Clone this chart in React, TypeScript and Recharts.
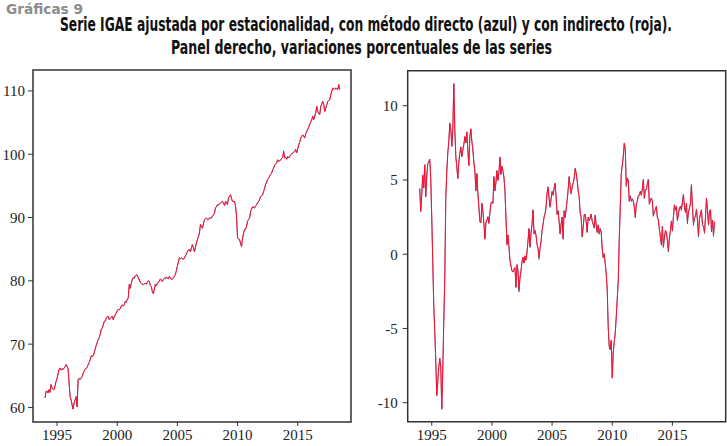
import React from 'react';
import { LineChart, Line, XAxis, YAxis, ReferenceArea } from 'recharts';

// Monthly observations, first month = January 1994
const START_YEAR = 1994;
const yearTicks = [1995, 2000, 2005, 2010, 2015];
const levelTicks = [60, 70, 80, 90, 100, 110];
const changeTicks = [-10, -5, 0, 5, 10];

// Left panel: IGAE seasonally adjusted (indirect method, red)
const igaeIndirecto = [
  61.5, 62.5, 62.6, 62.3, 62.8, 62.4, 63.6, 63.1, 62.9, 62.8, 63.4, 64.1,
  64.6, 65.3, 66.0, 66.2, 65.9, 66.1, 66.0, 66.2, 66.4, 66.75, 66.5, 66.1,
  63.85, 61.7, 61.2, 60.4, 59.75, 60.7, 61.2, 61.7, 60.1, 64.4, 64.6, 64.4,
  64.6, 64.9, 65.4, 65.7, 66.0, 66.2, 66.3, 66.75, 67.1, 67.5, 68.1, 68.1,
  68.1, 68.6, 69.2, 69.8, 70.2, 70.7, 71.0, 71.5, 72.3, 72.5, 73.0, 73.6,
  73.6, 74.1, 74.3, 74.4, 73.9, 74.1, 74.2, 74.4, 73.9, 74.3, 74.6, 74.9,
  75.2, 75.5, 75.4, 75.6, 76.0, 76.2, 76.0, 76.2, 76.75, 76.6, 77.0, 77.3,
  79.4, 78.8, 79.6, 80.2, 80.5, 80.4, 80.75, 80.9, 80.9, 80.5, 80.1, 79.75,
  79.6, 79.5, 79.4, 79.5, 79.6, 79.5, 79.8, 80.0, 79.9, 79.3, 79.1, 78.3,
  78.0, 78.6, 79.4, 79.2, 79.6, 79.8, 79.9, 80.3, 80.1, 79.9, 80.2, 80.4,
  80.3, 80.6, 80.4, 80.3, 80.7, 80.5, 80.2, 80.3, 80.4, 80.7, 81.0, 81.6,
  82.3, 83.0, 83.6, 83.5, 83.6, 83.5, 83.4, 83.6, 83.9, 84.2, 84.6, 84.9,
  84.9, 84.6, 85.2, 85.7, 85.2, 84.6, 85.3, 85.95, 86.5, 87.0, 87.55, 88.9,
  88.6, 88.3, 89.0, 89.65, 89.8, 89.9, 89.65, 89.7, 89.9, 89.9, 89.9, 90.2,
  90.4, 90.7, 91.5, 91.7, 92.0, 92.0, 92.1, 92.3, 92.4, 92.55, 92.2, 91.9,
  92.55, 92.3, 92.0, 93.1, 93.3, 93.6, 93.0, 92.55, 92.5, 92.55, 91.75, 90.2,
  86.75, 86.6, 86.5, 85.9, 85.4, 86.75, 87.5, 88.1, 88.1, 88.6, 89.4, 89.7,
  89.9, 90.95, 91.3, 91.7, 91.6, 91.5, 91.8, 92.0, 92.3, 92.5, 92.8, 93.3,
  93.4, 93.6, 94.1, 94.6, 95.2, 95.6, 96.0, 96.2, 96.5, 96.8, 97.0, 97.5,
  97.8, 98.3, 98.4, 98.6, 99.1, 98.9, 98.9, 99.1, 99.3, 99.5, 100.4, 99.4,
  99.5, 99.2, 99.6, 99.4, 99.6, 99.9, 100.0, 100.2, 100.3, 100.4, 100.7, 100.2,
  100.8, 101.5, 101.9, 102.55, 102.8, 103.05, 102.8, 102.55, 103.2, 103.6, 103.9, 104.3,
  104.7, 105.1, 105.45, 106.0, 105.45, 106.0, 106.5, 107.55, 106.75, 106.4, 106.25, 107.55,
  107.9, 108.35, 107.8, 106.75, 107.3, 107.8, 108.35, 108.5, 108.6, 109.4, 109.9, 110.45,
  110.3, 110.2, 110.45, 110.3, 110.2, 111.0, 110.2,
];

// Left panel: IGAE seasonally adjusted (direct method, blue)
const igaeDirecto = [
  61.5, 62.55, 62.55, 62.25, 62.85, 62.35, 63.65, 63.05, 62.85, 62.8, 63.45, 64.1,
  64.65, 65.3, 66.05, 66.25, 65.9, 66.15, 66.0, 66.25, 66.4, 66.8, 66.5, 66.15,
  63.8, 61.7, 61.15, 60.4, 59.7, 60.7, 61.2, 61.75, 60.1, 64.45, 64.6, 64.45,
  64.65, 64.9, 65.45, 65.7, 66.05, 66.2, 66.35, 66.75, 67.15, 67.5, 68.15, 68.1,
  68.15, 68.6, 69.25, 69.8, 70.25, 70.7, 71.05, 71.5, 72.35, 72.5, 73.05, 73.6,
  73.65, 74.1, 74.35, 74.4, 73.85, 74.1, 74.25, 74.4, 73.85, 74.3, 74.65, 74.9,
  75.25, 75.5, 75.45, 75.6, 76.05, 76.2, 76.05, 76.2, 76.8, 76.6, 77.05, 77.3,
  79.45, 78.8, 79.65, 80.2, 80.55, 80.4, 80.8, 80.95, 80.9, 80.5, 80.15, 79.75,
  79.65, 79.5, 79.4, 79.55, 79.6, 79.5, 79.85, 80.0, 79.9, 79.25, 79.1, 78.25,
  77.95, 78.6, 79.45, 79.2, 79.65, 79.8, 79.95, 80.3, 80.15, 79.9, 80.25, 80.4,
  80.35, 80.6, 80.45, 80.3, 80.75, 80.5, 80.25, 80.3, 80.45, 80.7, 81.05, 81.6,
  82.35, 83.0, 83.65, 83.5, 83.65, 83.5, 83.45, 83.6, 83.95, 84.2, 84.65, 84.9,
  84.95, 84.6, 85.25, 85.7, 85.25, 84.6, 85.35, 85.95, 86.55, 87.0, 87.6, 88.9,
  88.65, 88.3, 89.05, 89.65, 89.85, 89.9, 89.7, 89.7, 89.95, 89.9, 89.95, 90.2,
  90.45, 90.7, 91.55, 91.7, 92.05, 92.0, 92.15, 92.3, 92.45, 92.55, 92.25, 91.9,
  92.6, 92.3, 92.05, 93.1, 93.35, 93.6, 93.05, 92.55, 92.55, 92.55, 91.8, 90.2,
  86.8, 86.6, 86.55, 85.9, 85.45, 86.75, 87.55, 88.1, 88.15, 88.6, 89.45, 89.7,
  89.95, 90.95, 91.35, 91.7, 91.65, 91.5, 91.85, 92.0, 92.35, 92.5, 92.85, 93.3,
  93.45, 93.6, 94.15, 94.6, 95.25, 95.6, 96.05, 96.2, 96.55, 96.8, 97.05, 97.5,
  97.85, 98.3, 98.45, 98.6, 99.15, 98.9, 98.95, 99.1, 99.35, 99.5, 100.55, 99.4,
  99.55, 99.2, 99.65, 99.4, 99.65, 99.9, 100.05, 100.2, 100.35, 100.4, 100.8, 100.2,
  100.85, 101.5, 101.95, 102.55, 102.85, 103.05, 102.85, 102.55, 103.25, 103.6, 103.95, 104.3,
  104.75, 105.1, 105.5, 106.0, 105.5, 106.0, 106.55, 107.55, 106.8, 106.4, 106.3, 107.55,
  107.95, 108.35, 107.85, 106.75, 107.35, 107.8, 108.4, 108.5, 108.65, 109.4, 109.95, 110.45,
  110.35, 110.2, 110.5, 110.3, 110.25, 111.0, 110.25,
];

// Right panel: percentage changes (indirect method, red)
const varIndirecto = [
  4.4, 2.9, 4.0, 5.3, 4.5, 6.0, 3.9, 5.2, 6.1, 6.2, 6.4, 5.1,
  2.5, -0.5, -3.5, -5.2, -7.2, -9.5, -8.6, -7.6, -7.0, -7.6, -10.4, -7.8,
  -4.5, -1.5, 3.8, 5.6, 6.8, 7.6, 8.8, 8.4, 7.3, 8.4, 11.5, 8.4,
  6.6, 5.9, 5.1, 6.2, 6.8, 7.2, 6.6, 7.0, 7.4, 7.9, 7.5, 8.2,
  7.0, 6.0, 7.9, 8.45, 7.6, 7.0, 6.2, 5.6, 4.3, 5.4, 4.1, 3.2,
  2.2, 2.1, 3.4, 2.9, 2.1, 1.05, 2.1, 2.3, 2.5, 2.1, 2.8, 3.4,
  3.5, 3.45, 5.2, 4.3, 4.8, 5.6, 5.0, 5.5, 6.55, 5.4, 5.9, 5.6,
  5.2, 4.3, 2.5, 0.7, 1.3, 0.5, -0.4, -0.8, -1.1, -1.2, -1.0, -0.9,
  -2.2, -0.7, -1.1, -2.4, -1.6, -1.1, -0.5, -0.2, -0.6, -0.1, -0.4, 0.15,
  0.9, 1.7, 0.5, 1.4, 2.0, 2.95, 1.4, 1.6, 1.3, 0.7, 0.4, -0.2,
  0.4, 0.9, 1.6, 2.0, 2.5, 2.7, 3.2, 4.1, 4.5, 3.8, 3.2, 3.7,
  4.2, 4.0, 4.4, 4.75, 3.9, 2.7, 2.9, 2.2, 1.4, 2.0, 2.5, 1.05,
  2.9, 2.5, 3.0, 3.6, 4.3, 5.2, 4.6, 4.1, 4.5, 4.8, 5.05, 5.75,
  5.5, 5.0, 4.3, 3.9, 2.85, 2.5, 1.2, 1.8, 2.6, 2.7, 2.2, 1.5,
  2.5, 2.3, 2.4, 2.7, 2.25, 2.0, 1.8, 2.6, 2.0, 1.5, 1.95, 1.4,
  1.7, 1.5, 0.4, -0.2, 0.0, -0.6, -1.3, -2.4, -4.9, -6.2, -6.4, -5.8,
  -8.3, -6.6, -5.9, -5.3, -4.2, -3.0, -1.75, 1.0, 3.2, 5.4, 6.0, 6.55,
  7.45, 7.1, 4.65, 5.1, 5.0, 3.6, 3.9, 3.6, 3.7, 3.6, 3.2, 2.5,
  3.35, 3.6, 3.9, 4.0, 4.2, 4.0, 4.4, 5.0, 3.8, 4.3, 4.4, 4.7,
  5.0, 3.4, 3.6, 3.8, 3.6, 2.6, 2.85, 3.0, 3.2, 2.5, 2.3, 1.7,
  1.2, 0.7, 1.85, 0.5, 1.1, 1.6, 1.5, 0.95, 0.27, 1.1, 1.6, 2.2,
  1.6, 2.5, 3.3, 3.0, 3.2, 2.3, 2.7, 3.1, 3.2, 3.0, 3.5, 4.0,
  3.2, 2.85, 3.4, 2.2, 2.85, 3.1, 3.4, 4.65, 3.2, 2.1, 2.4, 2.6,
  3.0, 2.3, 1.3, 2.4, 2.7, 3.0, 2.0, 1.9, 1.5, 2.5, 3.75, 3.0,
  2.0, 2.85, 3.0, 1.6, 2.3, 1.3, 2.2,
];

// Right panel: percentage changes (direct method, blue)
const varDirecto = [
  4.45, 2.85, 4.05, 5.35, 4.45, 6.05, 3.85, 5.25, 6.1, 6.25, 6.4, 5.05,
  2.45, -0.55, -3.5, -5.25, -7.2, -9.55, -8.55, -7.6, -7.05, -7.6, -10.45, -7.8,
  -4.45, -1.5, 3.75, 5.6, 6.85, 7.6, 8.85, 8.4, 7.25, 8.45, 11.45, 8.35,
  6.55, 5.85, 5.1, 6.25, 6.8, 7.25, 6.55, 7.05, 7.4, 7.95, 7.5, 8.25,
  7.0, 5.95, 7.95, 8.4, 7.6, 7.05, 6.15, 5.6, 4.25, 5.45, 4.05, 3.15,
  2.15, 2.15, 3.45, 2.85, 2.05, 1.0, 2.15, 2.3, 2.55, 2.05, 2.85, 3.45,
  3.55, 3.4, 5.25, 4.25, 4.85, 5.65, 4.95, 5.55, 6.5, 5.35, 5.95, 5.6,
  5.15, 4.25, 2.45, 0.6, 1.3, 0.45, -0.45, -0.8, -1.15, -1.2, -1.05, -0.9,
  -2.25, -0.7, -1.15, -2.55, -1.6, -1.15, -0.5, -0.25, -0.6, -0.15, -0.4, 0.1,
  0.95, 1.75, 0.45, 1.45, 2.0, 3.0, 1.35, 1.6, 1.25, 0.65, 0.35, -0.35,
  0.35, 0.9, 1.55, 2.05, 2.5, 2.75, 3.15, 4.15, 4.55, 3.75, 3.15, 3.75,
  4.25, 3.95, 4.45, 4.8, 3.85, 2.65, 2.95, 2.15, 1.35, 2.05, 2.5, 1.0,
  2.95, 2.45, 3.05, 3.6, 4.35, 5.25, 4.55, 4.05, 4.55, 4.8, 5.1, 5.8,
  5.45, 4.95, 4.25, 3.9, 2.75, 2.5, 1.15, 1.8, 2.65, 2.7, 2.15, 1.45,
  2.5, 2.25, 2.45, 2.7, 2.2, 2.0, 1.75, 2.65, 1.95, 1.45, 2.0, 1.35,
  1.75, 1.45, 0.35, -0.25, 0.05, -0.65, -1.3, -2.45, -4.95, -6.25, -6.45, -5.8,
  -8.35, -6.6, -5.95, -5.3, -4.25, -3.0, -1.8, 1.0, 3.25, 5.45, 6.0, 6.6,
  7.5, 7.05, 4.55, 5.15, 4.95, 3.55, 3.95, 3.55, 3.75, 3.55, 3.15, 2.45,
  3.4, 3.55, 3.95, 3.95, 4.25, 3.95, 4.45, 5.05, 3.75, 4.35, 4.35, 4.75,
  5.05, 3.35, 3.65, 3.75, 3.6, 2.55, 2.9, 2.95, 3.25, 2.45, 2.3, 1.65,
  1.15, 0.6, 1.9, 0.45, 1.1, 1.55, 1.5, 0.85, 0.15, 1.1, 1.55, 2.25,
  1.55, 2.5, 3.35, 2.95, 3.25, 2.25, 2.75, 3.05, 3.25, 2.95, 3.55, 4.05,
  3.15, 2.8, 3.45, 2.05, 2.9, 3.05, 3.45, 4.7, 3.15, 1.95, 2.4, 2.55,
  3.05, 2.25, 1.15, 2.4, 2.75, 2.95, 1.95, 1.85, 1.4, 2.5, 3.8, 2.95,
  1.95, 2.9, 3.0, 1.5, 2.3, 1.2, 2.15,
];

const levelData = igaeIndirecto.map((v, i) => ({
  t: START_YEAR + i / 12,
  directo: igaeDirecto[i],
  indirecto: v,
}));
const changeData = varIndirecto.map((v, i) => ({
  t: START_YEAR + i / 12,
  directo: varDirecto[i],
  indirecto: v,
}));

const X_DOMAIN: [number, number] = [1993.0, 2019.43];
const LEVEL_DOMAIN: [number, number] = [57.7, 113.3];
const CHANGE_DOMAIN: [number, number] = [-11.28, 12.36];

const BLUE = '#2f3a9e';
const RED = '#ff1026';
const AXIS = '#333333';
const TICK_FONT = 'Liberation Serif, DejaVu Serif, serif';
const TITLE_FONT = '"DejaVu Sans Condensed", "Liberation Sans", sans-serif';
const TITLE_SCALE = 0.66;

const YTick = (props: any) => {
  const { x, y, payload } = props;
  return (
    <text x={x} y={y} dy="0.36em" textAnchor="end" fill="#222"
      fontFamily={TICK_FONT} fontSize={15}>
      {payload.value}
    </text>
  );
};

const XTick = (props: any) => {
  const { x, y, payload } = props;
  return (
    <text x={x} y={y} dy="0.8em" textAnchor="middle" fill="#222"
      fontFamily={TICK_FONT} fontSize={15}>
      {Math.round(payload.value)}
    </text>
  );
};

function Panel({ data, yDomain, yTicks, width, height, yAxisWidth, margin, yTickMargin }: any) {
  return (
    <LineChart width={width} height={height} data={data} margin={margin}>
      <XAxis
        dataKey="t"
        type="number"
        domain={X_DOMAIN}
        ticks={yearTicks}
        allowDataOverflow
        axisLine={false}
        tickLine={{ stroke: AXIS }}
        tickSize={4}
        height={20}
        tick={<XTick />}
      />
      <YAxis
        type="number"
        domain={yDomain}
        ticks={yTicks}
        allowDataOverflow
        axisLine={false}
        tickLine={{ stroke: AXIS }}
        tickSize={5}
        tickMargin={yTickMargin}
        width={yAxisWidth}
        tick={<YTick />}
      />
      <Line type="linear" dataKey="directo" stroke={BLUE} strokeWidth={0.7} dot={false} isAnimationActive={false} />
      <Line type="linear" dataKey="indirecto" stroke={RED} strokeWidth={1} dot={false} isAnimationActive={false} />
      <ReferenceArea
        x1={X_DOMAIN[0]}
        x2={X_DOMAIN[1]}
        y1={yDomain[0]}
        y2={yDomain[1]}
        fill="none"
        stroke={AXIS}
        strokeWidth={1.5}
        ifOverflow="visible"
      />
    </LineChart>
  );
}

export default function App() {
  return (
    <div style={{ position: 'absolute', left: 0, top: 0, width: 727, height: 446, background: '#fff', overflow: 'hidden' }}>
      <svg width={727} height={64} style={{ position: 'absolute', left: 0, top: 0 }}>
        <g transform={`translate(6,14) scale(${TITLE_SCALE + 0.1},1)`}>
          <text x={0} y={0} fill="#8c8c8c" fontWeight="bold" fontSize={14}
            fontFamily={TITLE_FONT} textLength={77 / (TITLE_SCALE + 0.1)} lengthAdjust="spacingAndGlyphs">Gráficas 9</text>
        </g>
        <g transform={`translate(366,31) scale(${TITLE_SCALE},1)`}>
          <text x={0} y={0} textAnchor="middle" fill="#111" fontWeight="bold" fontSize={19}
            fontFamily={TITLE_FONT} textLength={612 / TITLE_SCALE} lengthAdjust="spacingAndGlyphs">
            Serie IGAE ajustada por estacionalidad, con método directo (azul) y con indirecto (roja).
          </text>
        </g>
        <g transform={`translate(361.5,54) scale(${TITLE_SCALE},1)`}>
          <text x={0} y={0} textAnchor="middle" fill="#111" fontWeight="bold" fontSize={19}
            fontFamily={TITLE_FONT} textLength={381 / TITLE_SCALE} lengthAdjust="spacingAndGlyphs">
            Panel derecho, variaciones porcentuales de las series
          </text>
        </g>
      </svg>
      <div style={{ position: 'absolute', left: 0, top: 0 }}>
        <Panel data={levelData} yDomain={LEVEL_DOMAIN} yTicks={levelTicks} width={360} height={446}
          yAxisWidth={33} yTickMargin={3} margin={{ top: 70, right: 9, bottom: 4, left: 0 }} />
      </div>
      <div style={{ position: 'absolute', left: 360, top: 0 }}>
        <Panel data={changeData} yDomain={CHANGE_DOMAIN} yTicks={changeTicks} width={367} height={446}
          yAxisWidth={47.7} yTickMargin={5} margin={{ top: 70.7, right: 1.3, bottom: 4.3, left: 0 }} />
      </div>
    </div>
  );
}
